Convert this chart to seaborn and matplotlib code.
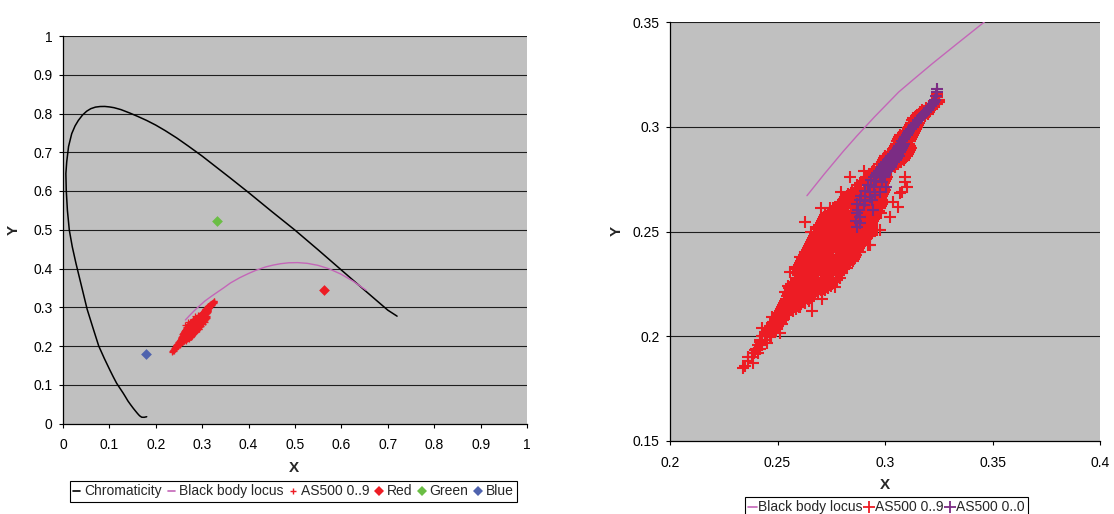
import matplotlib
matplotlib.use("Agg")
import matplotlib.pyplot as plt
from matplotlib.lines import Line2D
from matplotlib.ticker import FuncFormatter
import pandas as pd
import seaborn as sns

# ---- spectral locus (chromaticity boundary) ----
locus_x = [0.1804, 0.1750, 0.1696, 0.1650, 0.1606, 0.1560, 0.1515, 0.1460, 0.1400,
           0.1350, 0.1300, 0.1230, 0.1157, 0.1085, 0.1010, 0.0890, 0.0770, 0.0645,
           0.0520, 0.0400, 0.0280, 0.0200, 0.0136, 0.0095, 0.0070, 0.0062, 0.0080,
           0.0120, 0.0188, 0.0260, 0.0330, 0.0420, 0.0511, 0.0600, 0.0700, 0.0800,
           0.0900, 0.1000, 0.1100, 0.1250, 0.1444, 0.1620, 0.1804, 0.2000, 0.2200,
           0.2450, 0.2700, 0.3000, 0.3300, 0.3600, 0.4000, 0.4500, 0.5000, 0.5500,
           0.6000, 0.6500, 0.7000, 0.7200]
locus_y = [0.0175, 0.0160, 0.0162, 0.0200, 0.0258, 0.0325, 0.0392, 0.0480, 0.0580,
           0.0680, 0.0778, 0.0905, 0.1036, 0.1200, 0.1380, 0.1680, 0.2000, 0.2470,
           0.2950, 0.3540, 0.4130, 0.4560, 0.4990, 0.5500, 0.6020, 0.6450, 0.6750,
           0.7150, 0.7480, 0.7680, 0.7820, 0.7960, 0.8060, 0.8125, 0.8165, 0.8180,
           0.8182, 0.8170, 0.8150, 0.8100, 0.8010, 0.7920, 0.7820, 0.7700, 0.7560,
           0.7370, 0.7160, 0.6900, 0.6620, 0.6340, 0.5960, 0.5470, 0.4990, 0.4480,
           0.3960, 0.3440, 0.2925, 0.2770]

# ---- black body locus, hottest end first ----
bb_x = [0.2637, 0.2719, 0.2807, 0.2869, 0.2952, 0.3064, 0.3135, 0.3221, 0.3330,
        0.3462, 0.3608, 0.3805, 0.4000, 0.4171, 0.4369, 0.4525, 0.4685, 0.4862,
        0.5056, 0.5267, 0.5493, 0.5732, 0.5985, 0.6251, 0.6528]
bb_y = [0.2671, 0.2776, 0.2884, 0.2956, 0.3048, 0.3166, 0.3228, 0.3302, 0.3392,
        0.3500, 0.3626, 0.3760, 0.3872, 0.3960, 0.4041, 0.4087, 0.4123, 0.4147,
        0.4152, 0.4133, 0.4082, 0.3993, 0.3858, 0.3674, 0.3444]

# ---- display primaries ----
prim_names = ["Red", "Green", "Blue"]
prim_x = [0.5631, 0.3326, 0.1789]
prim_y = [0.3433, 0.5219, 0.1791]

# ---- AS500 0..9 measurements, grouped by y ----
as500_09_rows = [
    (0.316, [0.3244]),
    (0.315, [0.3244]),
    (0.314, [0.3244]),
    (0.313, [0.3240, 0.3250]),
    (0.312, [0.3235, 0.3250]),
    (0.311, [0.3220, 0.3240]),
    (0.310, [0.3205, 0.3225]),
    (0.309, [0.3190, 0.3220]),
    (0.308, [0.317, 0.319, 0.321]),
    (0.307, [0.3165, 0.3205]),
    (0.306, [0.316, 0.318, 0.320]),
    (0.305, [0.3145, 0.3185]),
    (0.304, [0.313, 0.315, 0.317]),
    (0.303, [0.3125, 0.3165]),
    (0.302, [0.312, 0.314, 0.316]),
    (0.301, [0.3115, 0.3155]),
    (0.300, [0.311, 0.313, 0.315]),
    (0.299, [0.3105, 0.3145]),
    (0.298, [0.310, 0.312, 0.314]),
    (0.297, [0.3085, 0.3135]),
    (0.296, [0.307, 0.309, 0.311, 0.313]),
    (0.295, [0.3065, 0.3105, 0.3125]),
    (0.294, [0.306, 0.308, 0.310, 0.312]),
    (0.293, [0.3055, 0.3095, 0.3115]),
    (0.292, [0.305, 0.307, 0.309, 0.311]),
    (0.291, [0.3045, 0.3085, 0.3115]),
    (0.290, [0.304, 0.306, 0.308, 0.310, 0.312]),
    (0.289, [0.3035, 0.3075, 0.3115]),
    (0.288, [0.303, 0.305, 0.307, 0.309, 0.311]),
    (0.287, [0.3015, 0.3055, 0.3095, 0.3105]),
    (0.286, [0.300, 0.302, 0.304, 0.306, 0.308, 0.310]),
    (0.285, [0.2995, 0.3035, 0.3075, 0.3095]),
    (0.284, [0.299, 0.301, 0.303, 0.305, 0.307, 0.309]),
    (0.283, [0.2985, 0.3025, 0.3065, 0.3075]),
    (0.282, [0.298, 0.300, 0.302, 0.304, 0.306]),
    (0.281, [0.2965, 0.3005, 0.3045]),
    (0.280, [0.295, 0.297, 0.299, 0.301, 0.303]),
    (0.279, [0.2945, 0.2985, 0.3015]),
    (0.278, [0.294, 0.296, 0.298, 0.300]),
    (0.277, [0.2925, 0.2965, 0.3005]),
    (0.276, [0.291, 0.293, 0.295, 0.297, 0.299, 0.301]),
    (0.275, [0.2905, 0.2945, 0.2985, 0.3005]),
    (0.274, [0.290, 0.292, 0.294, 0.296, 0.298, 0.300]),
    (0.273, [0.2885, 0.2925, 0.2965, 0.2995]),
    (0.272, [0.287, 0.289, 0.291, 0.293, 0.295, 0.297, 0.299]),
    (0.271, [0.2865, 0.2905, 0.2945, 0.2985, 0.2995]),
    (0.270, [0.286, 0.288, 0.290, 0.292, 0.294, 0.296, 0.298, 0.300]),
    (0.269, [0.2845, 0.2885, 0.2925, 0.2965, 0.2995]),
    (0.268, [0.283, 0.285, 0.287, 0.289, 0.291, 0.293, 0.295, 0.297, 0.299]),
    (0.267, [0.2825, 0.2865, 0.2905, 0.2945, 0.2985]),
    (0.266, [0.282, 0.284, 0.286, 0.288, 0.290, 0.292, 0.294, 0.296, 0.298]),
    (0.265, [0.2805, 0.2845, 0.2885, 0.2925, 0.2965, 0.2985]),
    (0.264, [0.279, 0.281, 0.283, 0.285, 0.287, 0.289, 0.291, 0.293, 0.295, 0.297, 0.299]),
    (0.263, [0.2785, 0.2825, 0.2865, 0.2905, 0.2945, 0.2985]),
    (0.262, [0.278, 0.280, 0.282, 0.284, 0.286, 0.288, 0.290, 0.292, 0.294, 0.296, 0.298]),
    (0.261, [0.2765, 0.2805, 0.2845, 0.2885, 0.2925, 0.2965, 0.2975]),
    (0.260, [0.275, 0.277, 0.279, 0.281, 0.283, 0.285, 0.287, 0.289, 0.291, 0.293, 0.295, 0.297]),
    (0.259, [0.2735, 0.2775, 0.2815, 0.2855, 0.2895, 0.2935, 0.2965]),
    (0.258, [0.272, 0.274, 0.276, 0.278, 0.280, 0.282, 0.284, 0.286, 0.288, 0.290, 0.292, 0.294, 0.296]),
    (0.257, [0.2715, 0.2755, 0.2795, 0.2835, 0.2875, 0.2915, 0.2955]),
    (0.256, [0.271, 0.273, 0.275, 0.277, 0.279, 0.281, 0.283, 0.285, 0.287, 0.289, 0.291, 0.293, 0.295]),
    (0.255, [0.2705, 0.2745, 0.2785, 0.2825, 0.2865, 0.2905, 0.2945]),
    (0.254, [0.270, 0.272, 0.274, 0.276, 0.278, 0.280, 0.282, 0.284, 0.286, 0.288, 0.290, 0.292, 0.294]),
    (0.253, [0.2695, 0.2735, 0.2775, 0.2815, 0.2855, 0.2895, 0.2935]),
    (0.252, [0.269, 0.271, 0.273, 0.275, 0.277, 0.279, 0.281, 0.283, 0.285, 0.287, 0.289, 0.291, 0.293]),
    (0.251, [0.2685, 0.2725, 0.2765, 0.2805, 0.2845, 0.2885, 0.2925, 0.2935]),
    (0.250, [0.268, 0.270, 0.272, 0.274, 0.276, 0.278, 0.280, 0.282, 0.284, 0.286, 0.288, 0.290, 0.292, 0.294]),
    (0.249, [0.2675, 0.2715, 0.2755, 0.2795, 0.2835, 0.2875, 0.2915, 0.2935]),
    (0.248, [0.267, 0.269, 0.271, 0.273, 0.275, 0.277, 0.279, 0.281, 0.283, 0.285, 0.287, 0.289, 0.291, 0.293]),
    (0.247, [0.2665, 0.2705, 0.2745, 0.2785, 0.2825, 0.2865, 0.2905, 0.2915]),
    (0.246, [0.266, 0.268, 0.270, 0.272, 0.274, 0.276, 0.278, 0.280, 0.282, 0.284, 0.286, 0.288, 0.290]),
    (0.245, [0.2655, 0.2695, 0.2735, 0.2775, 0.2815, 0.2855, 0.2895]),
    (0.244, [0.265, 0.267, 0.269, 0.271, 0.273, 0.275, 0.277, 0.279, 0.281, 0.283, 0.285, 0.287, 0.289]),
    (0.243, [0.2645, 0.2685, 0.2725, 0.2765, 0.2805, 0.2845, 0.2885]),
    (0.242, [0.264, 0.266, 0.268, 0.270, 0.272, 0.274, 0.276, 0.278, 0.280, 0.282, 0.284, 0.286, 0.288]),
    (0.241, [0.2635, 0.2675, 0.2715, 0.2755, 0.2795, 0.2835, 0.2875]),
    (0.240, [0.263, 0.265, 0.267, 0.269, 0.271, 0.273, 0.275, 0.277, 0.279, 0.281, 0.283, 0.285, 0.287]),
    (0.239, [0.2625, 0.2665, 0.2705, 0.2745, 0.2785, 0.2825, 0.2865]),
    (0.238, [0.262, 0.264, 0.266, 0.268, 0.270, 0.272, 0.274, 0.276, 0.278, 0.280, 0.282, 0.284, 0.286]),
    (0.237, [0.2615, 0.2655, 0.2695, 0.2735, 0.2775, 0.2815, 0.2855]),
    (0.236, [0.261, 0.263, 0.265, 0.267, 0.269, 0.271, 0.273, 0.275, 0.277, 0.279, 0.281, 0.283, 0.285]),
    (0.235, [0.2605, 0.2645, 0.2685, 0.2725, 0.2765, 0.2805, 0.2835]),
    (0.234, [0.260, 0.262, 0.264, 0.266, 0.268, 0.270, 0.272, 0.274, 0.276, 0.278, 0.280, 0.282]),
    (0.233, [0.2595, 0.2635, 0.2675, 0.2715, 0.2755, 0.2795, 0.2815]),
    (0.232, [0.259, 0.261, 0.263, 0.265, 0.267, 0.269, 0.271, 0.273, 0.275, 0.277, 0.279, 0.281]),
    (0.231, [0.2595, 0.2635, 0.2675, 0.2715, 0.2755, 0.2795]),
    (0.230, [0.260, 0.262, 0.264, 0.266, 0.268, 0.270, 0.272, 0.274, 0.276, 0.278, 0.280]),
    (0.229, [0.2595, 0.2635, 0.2675, 0.2715, 0.2755, 0.2785]),
    (0.228, [0.259, 0.261, 0.263, 0.265, 0.267, 0.269, 0.271, 0.273, 0.275, 0.277, 0.279]),
    (0.227, [0.2585, 0.2625, 0.2665, 0.2705, 0.2745, 0.2775]),
    (0.226, [0.258, 0.260, 0.262, 0.264, 0.266, 0.268, 0.270, 0.272, 0.274, 0.276]),
    (0.225, [0.2565, 0.2605, 0.2645, 0.2685, 0.2725, 0.2755]),
    (0.224, [0.255, 0.257, 0.259, 0.261, 0.263, 0.265, 0.267, 0.269, 0.271, 0.273, 0.275]),
    (0.223, [0.2555, 0.2595, 0.2635, 0.2675, 0.2715, 0.2735]),
    (0.222, [0.256, 0.258, 0.260, 0.262, 0.264, 0.266, 0.268, 0.270, 0.272]),
    (0.221, [0.2555, 0.2595, 0.2635, 0.2675, 0.2705]),
    (0.220, [0.255, 0.257, 0.259, 0.261, 0.263, 0.265, 0.267, 0.269]),
    (0.219, [0.2545, 0.2585, 0.2625, 0.2665]),
    (0.218, [0.254, 0.256, 0.258, 0.260, 0.262, 0.264, 0.266]),
    (0.217, [0.2535, 0.2575, 0.2615, 0.2645]),
    (0.216, [0.253, 0.255, 0.257, 0.259, 0.261, 0.263]),
    (0.215, [0.2525, 0.2565, 0.2605]),
    (0.214, [0.252, 0.254, 0.256, 0.258, 0.260]),
    (0.213, [0.2515, 0.2555, 0.2585]),
    (0.212, [0.251, 0.253, 0.255, 0.257]),
    (0.211, [0.2505, 0.2545]),
    (0.210, [0.250, 0.252, 0.254]),
    (0.209, [0.2495, 0.2530]),
    (0.208, [0.249, 0.251, 0.253]),
    (0.207, [0.2480, 0.2515]),
    (0.206, [0.248, 0.250, 0.252]),
    (0.205, [0.2465, 0.2500]),
    (0.204, [0.245, 0.247, 0.249]),
    (0.203, [0.2450, 0.2485]),
    (0.202, [0.244, 0.246, 0.248]),
    (0.201, [0.2440, 0.2470]),
    (0.200, [0.243, 0.245, 0.247]),
    (0.198, [0.242, 0.244]),
    (0.196, [0.241, 0.243]),
    (0.194, [0.240, 0.242]),
    (0.192, [0.239, 0.241]),
    (0.190, [0.238]),
    (0.188, [0.2365]),
    (0.186, [0.235]),
]

# scattered AS500 0..9 readings around the main band
as500_09_scatter = [
    (0.2837, 0.2762), (0.3093, 0.2762), (0.3101, 0.2714), (0.3070, 0.2682),
    (0.3062, 0.2618), (0.2744, 0.2611), (0.2628, 0.2547), (0.3023, 0.2571),
    (0.2977, 0.2507), (0.2922, 0.2436), (0.2884, 0.2404), (0.2822, 0.2356),
    (0.2667, 0.2459), (0.2713, 0.2523), (0.2605, 0.2380), (0.2589, 0.2332),
    (0.3093, 0.2738), (0.3078, 0.2690), (0.2760, 0.2611), (0.2961, 0.2507),
    (0.2783, 0.2300), (0.2581, 0.2300), (0.2721, 0.2523), (0.2899, 0.2491),
    (0.2930, 0.2436), (0.2558, 0.2308), (0.2822, 0.2324), (0.2760, 0.2260),
    (0.2721, 0.2229), (0.2767, 0.2237), (0.2535, 0.2213), (0.2473, 0.2093),
    (0.2427, 0.2038), (0.2605, 0.2141), (0.2527, 0.2078), (0.2387, 0.1871),
    (0.2341, 0.1847), (0.2364, 0.1902), (0.2395, 0.1934), (0.2450, 0.1966),
    (0.2419, 0.1974), (0.2465, 0.1998), (0.2512, 0.2014), (0.2655, 0.2500),
    (0.2640, 0.2420), (0.2625, 0.2360), (0.2700, 0.2610), (0.2795, 0.2690),
    (0.2900, 0.2790), (0.3000, 0.2860), (0.2980, 0.2590), (0.3035, 0.2640),
    (0.2575, 0.2250), (0.2565, 0.2190), (0.2705, 0.2180), (0.2660, 0.2120),
]

# ---- AS500 0..0 measurements ----
as500_00_points = [
    (0.3242, 0.3180), (0.3242, 0.3165), (0.3235, 0.3145), (0.3232, 0.3130),
    (0.3228, 0.3120), (0.3222, 0.3110), (0.3214, 0.3100), (0.3206, 0.3090),
    (0.3198, 0.3080), (0.3190, 0.3070), (0.3180, 0.3060), (0.3172, 0.3050),
    (0.3163, 0.3040), (0.3154, 0.3030), (0.3145, 0.3020), (0.3137, 0.3010),
    (0.3130, 0.3000), (0.3121, 0.2990), (0.3112, 0.2980), (0.3106, 0.2970),
    (0.3100, 0.2960), (0.3094, 0.2950), (0.3089, 0.2940), (0.3080, 0.2930),
    (0.3074, 0.2920), (0.3090, 0.2920), (0.3066, 0.2910), (0.3084, 0.2910),
    (0.3061, 0.2900), (0.3080, 0.2900), (0.3054, 0.2890), (0.3075, 0.2890),
    (0.3047, 0.2880), (0.3070, 0.2880), (0.3037, 0.2870), (0.3062, 0.2870),
    (0.3028, 0.2860), (0.3046, 0.2860), (0.3063, 0.2860), (0.3021, 0.2850),
    (0.3040, 0.2850), (0.3056, 0.2850), (0.3014, 0.2840), (0.3032, 0.2840),
    (0.3049, 0.2840), (0.3004, 0.2830), (0.3023, 0.2830), (0.3041, 0.2830),
    (0.2995, 0.2820), (0.3014, 0.2820), (0.3033, 0.2820), (0.2988, 0.2810),
    (0.3007, 0.2810), (0.3026, 0.2810), (0.2981, 0.2800), (0.3000, 0.2800),
    (0.3019, 0.2800), (0.2973, 0.2790), (0.2992, 0.2790), (0.3010, 0.2790),
    (0.2965, 0.2780), (0.2984, 0.2780), (0.3002, 0.2780), (0.2958, 0.2770),
    (0.2980, 0.2770), (0.2998, 0.2770), (0.2950, 0.2760), (0.2977, 0.2762),
    (0.2995, 0.2760), (0.2935, 0.2745), (0.2960, 0.2740), (0.2985, 0.2735),
    (0.2920, 0.2720), (0.2950, 0.2712), (0.3005, 0.2714), (0.2905, 0.2695),
    (0.2930, 0.2688), (0.2975, 0.2690), (0.2890, 0.2670), (0.2930, 0.2666),
    (0.2955, 0.2672), (0.2884, 0.2650), (0.2905, 0.2645), (0.2940, 0.2648),
    (0.2870, 0.2630), (0.2900, 0.2625), (0.2946, 0.2603), (0.2875, 0.2605),
    (0.2868, 0.2587), (0.2885, 0.2570), (0.2865, 0.2550), (0.2884, 0.2539),
    (0.2870, 0.2523),
]

# ---- axis ticks ----
left_ticks = [0, 0.1, 0.2, 0.3, 0.4, 0.5, 0.6, 0.7, 0.8, 0.9, 1]
right_xticks = [0.2, 0.25, 0.3, 0.35, 0.4]
right_yticks = [0.15, 0.2, 0.25, 0.3, 0.35]

# ---- colours ----
BG = "#C0C0C0"
LOCUS_C = "#000000"
BB_C = "#C466B8"
RED_C = "#ED1C24"
GREEN_C = "#6BBE45"
BLUE_C = "#4F63AE"
PURPLE_C = "#7B2C84"

# ---- assemble tables ----
xs09, ys09 = [], []
for yv, row in as500_09_rows:
    xs09.extend(row)
    ys09.extend([yv] * len(row))
xs09.extend(p[0] for p in as500_09_scatter)
ys09.extend(p[1] for p in as500_09_scatter)
df09 = pd.DataFrame({"x": xs09, "y": ys09})
df00 = pd.DataFrame(as500_00_points, columns=["x", "y"])
df_locus = pd.DataFrame({"x": locus_x, "y": locus_y})
df_bb = pd.DataFrame({"x": bb_x, "y": bb_y})

sns.set_theme(style="white")
plt.rcParams["font.family"] = ["Liberation Sans", "DejaVu Sans"]

fig = plt.figure(figsize=(11.14, 5.14), dpi=100)
ax1 = fig.add_axes([63 / 1114, 1 - 423.5 / 514, 464 / 1114, 387.5 / 514])
ax2 = fig.add_axes([670 / 1114, 1 - 441 / 514, 430 / 1114, 419 / 514])

fmt = FuncFormatter(lambda v, p: f"{v:g}")


def style_axes(ax, xticks, yticks):
    ax.set_facecolor(BG)
    ax.set_xlim(xticks[0], xticks[-1])
    ax.set_ylim(yticks[0], yticks[-1])
    ax.set_xticks(xticks)
    ax.set_yticks(yticks)
    ax.xaxis.set_major_formatter(fmt)
    ax.yaxis.set_major_formatter(fmt)
    for yv in yticks[1:]:
        ax.axhline(yv, color="#1E1E1E", lw=0.8, zorder=0.5)
    for s in ["top", "right"]:
        ax.spines[s].set_visible(False)
    for s in ["left", "bottom"]:
        ax.spines[s].set_color("black")
        ax.spines[s].set_linewidth(0.9)
        ax.spines[s].set_zorder(5)
    ax.tick_params(axis="both", which="major", direction="out", length=3.2,
                   width=0.8, color="black", labelsize=10, labelcolor="black",
                   bottom=True, left=True)
    ax.tick_params(axis="x", pad=7.5)
    ax.tick_params(axis="y", pad=4.3)
    ax.set_xlabel("")
    ax.set_ylabel("")


# ---- left chart: full chromaticity diagram ----
sns.lineplot(data=df_locus, x="x", y="y", sort=False, estimator=None,
             color=LOCUS_C, lw=1.1, ax=ax1, zorder=3)
sns.lineplot(data=df_bb, x="x", y="y", sort=False, estimator=None,
             color=BB_C, lw=1.0, ax=ax1, zorder=3)
sns.scatterplot(data=df09, x="x", y="y", marker="+", s=14, color=RED_C,
                linewidth=0.9, ax=ax1, zorder=4, legend=False)
for name, px, py, c in zip(prim_names, prim_x, prim_y, [RED_C, GREEN_C, BLUE_C]):
    sns.scatterplot(x=[px], y=[py], marker="D", s=30, color=c, edgecolor=c,
                    linewidth=0, ax=ax1, zorder=5, legend=False)
style_axes(ax1, left_ticks, left_ticks)

# ---- right chart: zoom on the measurements ----
sns.lineplot(data=df_bb, x="x", y="y", sort=False, estimator=None,
             color=BB_C, lw=1.0, ax=ax2, zorder=3)
sns.scatterplot(data=df09, x="x", y="y", marker="+", s=75, color=RED_C,
                linewidth=1.5, ax=ax2, zorder=4, legend=False)
sns.scatterplot(data=df00, x="x", y="y", marker="+", s=75, color=PURPLE_C,
                linewidth=1.5, ax=ax2, zorder=5, legend=False)
style_axes(ax2, right_xticks, right_yticks)

# ---- axis titles ----
lab = dict(fontsize=11, fontweight="bold", ha="center", va="center")
fig.text(294 / 1114, 1 - 468 / 514, "X", **lab)
fig.text(14 / 1114, 1 - 230 / 514, "Y", rotation=90, **lab)
fig.text(885 / 1114, 1 - 485 / 514, "X", **lab)
fig.text(617 / 1114, 1 - 231 / 514, "Y", rotation=90, **lab)

# ---- legends ----
h_left = [
    Line2D([], [], color=LOCUS_C, lw=1.2),
    Line2D([], [], color=BB_C, lw=1.2),
    Line2D([], [], color=RED_C, marker="+", ls="none", ms=4, mew=1.0),
    Line2D([], [], color=RED_C, marker="D", ls="none", ms=5.5, mew=0),
    Line2D([], [], color=GREEN_C, marker="D", ls="none", ms=5.5, mew=0),
    Line2D([], [], color=BLUE_C, marker="D", ls="none", ms=5.5, mew=0),
]
l_left = ["Chromaticity", "Black body locus", "AS500 0..9"] + prim_names
leg1 = fig.legend(h_left, l_left, loc="upper center",
                  bbox_to_anchor=(293.5 / 1114, 1 - 481 / 514), ncol=6,
                  fontsize=10, frameon=True, fancybox=False, framealpha=1,
                  edgecolor="black", handlelength=0.45, handletextpad=0.3,
                  columnspacing=0.5, borderpad=0.25, borderaxespad=0)
leg1.get_frame().set_linewidth(0.8)

h_right = [
    Line2D([], [], color=BB_C, lw=1.2),
    Line2D([], [], color=RED_C, marker="+", ls="none", ms=9, mew=1.3),
    Line2D([], [], color=PURPLE_C, marker="+", ls="none", ms=9, mew=1.3),
]
l_right = ["Black body locus", "AS500 0..9", "AS500 0..0"]
leg2 = fig.legend(h_right, l_right, loc="upper center",
                  bbox_to_anchor=(886.5 / 1114, 1 - 497 / 514), ncol=3,
                  fontsize=10, frameon=True, fancybox=False, framealpha=1,
                  edgecolor="black", handlelength=0.6, handletextpad=0.1,
                  columnspacing=0.2, borderpad=0.25, borderaxespad=0)
leg2.get_frame().set_linewidth(0.8)

fig.savefig("out.png", dpi=100, facecolor="white")
